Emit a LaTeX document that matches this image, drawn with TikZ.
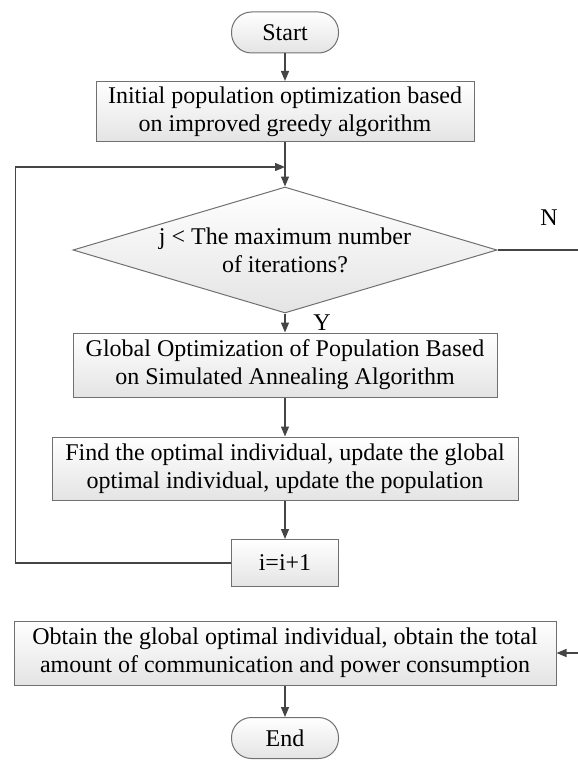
\documentclass[tikz,border=0pt]{standalone}
\usepackage{fontspec}
\setmainfont{Liberation Serif}
\usetikzlibrary{arrows.meta,shapes.geometric}
\definecolor{linegray}{HTML}{454545}
\definecolor{boxgray}{HTML}{707070}
\definecolor{fillgray}{HTML}{E4E4E4}
\begin{document}
\begin{tikzpicture}[x=1pt,y=-1pt,
  font=\fontsize{24}{28}\selectfont,
  flowline/.style={draw=linegray,line width=1.3pt},
  arr/.style={flowline,-{Triangle[length=10pt,width=8pt]}},
  shaded/.style={draw=boxgray,line width=1pt,top color=white,bottom color=fillgray},
  procbox/.style={shaded,align=center,inner sep=0pt},
  terminal/.style={shaded,rounded corners=20pt,inner sep=0pt,minimum width=107pt,minimum height=41pt},
  decision/.style={shaded,diamond,inner sep=0pt,minimum width=424pt,minimum height=126pt}
]
\useasboundingbox (0,0) rectangle (578,760);
\clip (0,0) rectangle (578,760);

% nodes
\node[terminal] (start) at (285,32.5) {Start};
\node[procbox,minimum width=378pt,minimum height=60pt] (init) at (285,111.5)
  {Initial population optimization based\\on improved greedy algorithm};
\node[decision,label={[align=center,inner sep=0pt]center:j < The maximum number\\of iterations?}] (dec) at (285,250) {};
\node[procbox,minimum width=424pt,minimum height=64pt] (sa) at (285,365)
  {Global Optimization of Population Based\\on Simulated Annealing Algorithm};
\node[procbox,minimum width=466pt,minimum height=63pt] (best) at (285,468.5)
  {Find the optimal individual, update the global\\optimal individual, update the population};
\node[procbox,minimum width=107pt,minimum height=47pt] (inc) at (285,563) {i=i+1};
\node[procbox,minimum width=542pt,minimum height=64pt] (final) at (285,653)
  {Obtain the global optimal individual, obtain the total\\amount of communication and power consumption};
\node[terminal] (end) at (285,738) {End};

% branch labels
\node (ylab) at (322,323) {Y};
\node (nlab) at (549,218) {N};

% helper points for the loop and the exit branch
\coordinate (join) at (285,167);
\coordinate (loopx) at (15.5,0);
\coordinate (rightx) at (600,0);

% main flow
\draw[arr] (start) -- (init);
\draw[arr] (init) -- (dec);
\draw[arr] (dec) -- (sa);
\draw[arr] (sa) -- (best);
\draw[arr] (best) -- (inc);
\draw[arr] (final) -- (end);

% loop back
\draw[arr] (inc.west) -- (inc.west -| loopx) |- (join);

% exit branch
\draw[arr] (dec.east) -- (dec.east -| rightx) |- (final.east);
\end{tikzpicture}
\end{document}
